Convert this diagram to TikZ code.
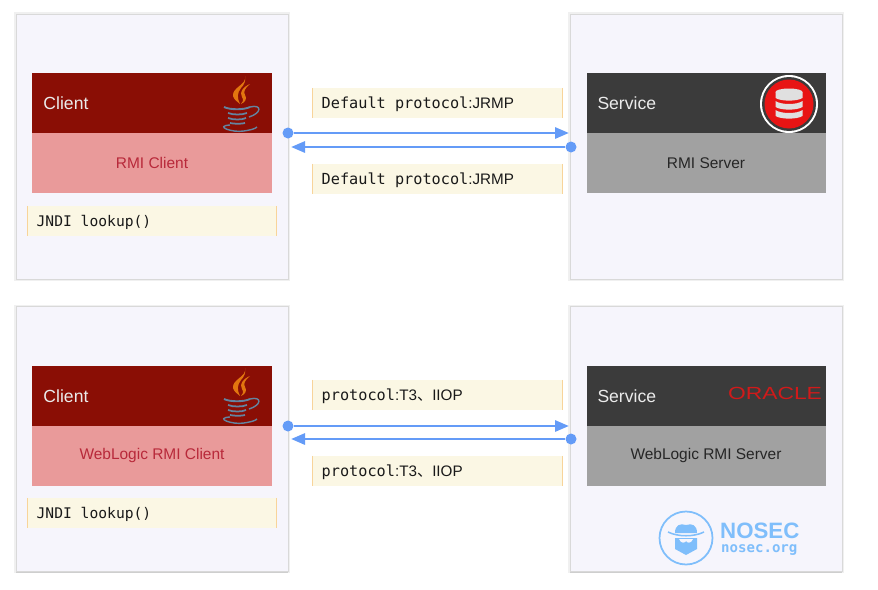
\documentclass[tikz,border=0pt]{standalone}
\usepackage{fontspec}
\setmainfont{Liberation Sans}
\setmonofont{DejaVu Sans Mono}
\newfontfamily\cjkfont{Noto Sans CJK SC}
\usetikzlibrary{arrows.meta,positioning,shadows}
\definecolor{panelbg}{HTML}{F6F5FC}
\definecolor{tagbg}{HTML}{FBF7E4}
\definecolor{tagedge}{HTML}{F8D49A}
\definecolor{flowblue}{HTML}{649BF7}
\definecolor{clienthead}{HTML}{8A0E05}
\definecolor{clientbody}{HTML}{E99A9A}
\definecolor{clienttext}{HTML}{B8293A}
\definecolor{servicehead}{HTML}{3B3B3B}
\definecolor{servicebody}{HTML}{A1A1A1}
\definecolor{logoblue}{HTML}{7FBEFB}
\definecolor{javablue}{HTML}{6484A0}
\definecolor{javaorange}{HTML}{E2760F}
\definecolor{oraclered}{HTML}{D01A1A}
\definecolor{dbred}{HTML}{E81414}
\tikzset{
	panel/.style={fill=panelbg, draw=black!15, line width=0.7pt, minimum width=8.16cm, minimum height=7.95cm, inner sep=0, preaction={draw=black!6, line width=2.6pt}, drop shadow={shadow xshift=0pt, shadow yshift=-1pt, opacity=0.3, fill=black!50}},
	headbar/.style={minimum width=7.17cm, minimum height=1.78cm, inner sep=0},
	bodybar/.style={minimum width=7.17cm, minimum height=1.79cm, inner sep=0},
	headtext/.style={text=white!92!black, font=\fontsize{15}{18}\selectfont},
	bodytext/.style={font=\fontsize{13.2}{16}\selectfont},
	tagbox/.style={fill=tagbg, minimum height=0.89cm, inner sep=0, text depth=0pt, font=\fontsize{12.5}{15}\selectfont\ttfamily, text=black!90},
	tagside/.style={draw=tagedge, line width=1.2pt},
	flowline/.style={draw=flowblue, line width=2.4pt, -{Triangle[length=0.42cm,width=0.33cm]}},
	flowdot/.style={circle, fill=flowblue, minimum size=0.33cm, inner sep=0},
}
\newcommand{\protomono}{\fontsize{13}{15}\selectfont}
\newcommand{\protosans}{\fontsize{13}{15}\selectfont\rmfamily}
\newcommand{\hostpanel}[8] % {name}{x}{y}{head colour}{head text}{body colour}{body text colour}{body text}
{
	\node [panel] (#1) at (#2,#3) {};
	\node [headbar, fill=#4, below=1.79cm of #1.north] (#1head) {};
	\node [bodybar, fill=#6, below=0cm of #1head] (#1body) {};
	\node [headtext, anchor=base west, inner sep=0] (#1title) at ([xshift=0.33cm,yshift=-0.2cm]#1head.west) {#5};
	\node [bodytext, text=#7] (#1label) at (#1body) {#8};
}
\newcommand{\tagnote}[5] % {name}{x}{y}{width}{text}
{
	\node [tagbox, minimum width=#4cm] (#1) at (#2,#3) {};
	\node [tagbox, fill=none, anchor=west] (#1text) at ([xshift=0.26cm]#1.west) {#5};
	\draw [tagside] (#1.north west) -- (#1.south west);
	\draw [tagside] (#1.north east) -- (#1.south east);
}
\newcommand{\javalogo}[2] % {x}{y}
{
	\fill [javaorange] (#1+5,#2-29) .. controls (#1+7,#2-20) and (#1-8,#2-18) .. (#1-7,#2-9) .. controls (#1-6,#2-5) and (#1-2,#2-3) .. (#1,#2-1) .. controls (#1-3,#2-7) and (#1-3,#2-12) .. (#1+1,#2-17) .. controls (#1+4,#2-20) and (#1+6,#2-24) .. (#1+5,#2-29) -- cycle;
	\fill [javaorange] (#1+10,#2-21) .. controls (#1+3,#2-18) and (#1-1,#2-13) .. (#1+2,#2-8) .. controls (#1+4,#2-5) and (#1+3,#2-3) .. (#1+1,#2-1) .. controls (#1+6,#2-3) and (#1+7,#2-7) .. (#1+5,#2-10) .. controls (#1+3,#2-13) and (#1+5,#2-17) .. (#1+10,#2-21) -- cycle;
	\draw [javablue, line width=1.6pt] (#1-16,#2+2) .. controls (#1-10,#2+5) and (#1+4,#2+5) .. (#1+10,#2+2);
	\draw [javablue, line width=1.5pt] (#1-12,#2+8) .. controls (#1-7,#2+10) and (#1+2,#2+10) .. (#1+7,#2+8);
	\draw [javablue, line width=1.5pt] (#1-12,#2+13) .. controls (#1-7,#2+15) and (#1+2,#2+15) .. (#1+6,#2+13);
	\draw [javablue, line width=1.5pt] (#1-10,#2+18) .. controls (#1-6,#2+19) and (#1+2,#2+19) .. (#1+5,#2+18);
	\draw [javablue, line width=1.2pt] (#1+10,#2+2) .. controls (#1+22,#2-1) and (#1+22,#2+8) .. (#1+9,#2+12);
	\draw [javablue, line width=1.2pt] (#1-10,#2+20) .. controls (#1-26,#2+21) and (#1-8,#2+28) .. (#1+4,#2+26) .. controls (#1+10,#2+25) and (#1+15,#2+24) .. (#1+17,#2+22);
}
\newcommand{\dbdisk}[3] % {x}{y}{fill}
{
	\fill [#3] (#1-13.5,#2-3) .. controls (#1-8,#2+1) and (#1+8,#2+1) .. (#1+13.5,#2-3) -- (#1+13.5,#2+3) .. controls (#1+8,#2+6.5) and (#1-8,#2+6.5) .. (#1-13.5,#2+3) -- cycle;
}
\newcommand{\dblogo}[2] % {x}{y}
{
	\fill [white] (#1,#2) circle [radius=29];
	\fill [servicehead] (#1,#2) circle [radius=27];
	\fill [dbred] (#1,#2) circle [radius=24.5];
	\dbdisk{#1}{#2-9}{black!12}
	\dbdisk{#1}{#2}{black!12}
	\dbdisk{#1}{#2+9}{black!12}
	\fill [black!12] (#1,#2-12) ellipse [x radius=13.5, y radius=3.5];
}
\newcommand{\nosecmark}[2] % {x}{y}
{
	\draw [logoblue, line width=1.5pt] (#1,#2) circle [radius=26.5];
	\fill [logoblue] (#1-11,#2-5) .. controls (#1-11,#2-13) and (#1-6,#2-15) .. (#1,#2-13) .. controls (#1+6,#2-15) and (#1+11,#2-13) .. (#1+11,#2-5) -- cycle;
	\draw [logoblue, line width=1.3pt] (#1-18,#2-6) .. controls (#1-8,#2-1) and (#1+8,#2-1) .. (#1+18,#2-6);
	\fill [logoblue] (#1-11,#2) -- (#1+11,#2) -- (#1+11,#2+11) -- (#1,#2+17) -- (#1-11,#2+11) -- cycle;
	\fill [panelbg] (#1-7,#2+1) .. controls (#1-5,#2+6) and (#1-1,#2+5) .. (#1,#2+3) .. controls (#1+1,#2+5) and (#1+5,#2+6) .. (#1+7,#2+1) -- cycle;
}

\begin{document}
\begin{tikzpicture}[x=0.03cm, y=-0.03cm]
	\useasboundingbox [fill=white] (0,0) rectangle (878,589);

	\hostpanel{clienta}{152}{146.5}{clienthead}{Client}{clientbody}{clienttext}{RMI Client}
	\hostpanel{servera}{706}{146.5}{servicehead}{Service}{servicebody}{black!85}{RMI Server}
	\hostpanel{clientb}{152}{439.2}{clienthead}{Client}{clientbody}{clienttext}{WebLogic RMI Client}
	\hostpanel{serverb}{706}{439.2}{servicehead}{Service}{servicebody}{black!85}{WebLogic RMI Server}

	\javalogo{240}{105}
	\javalogo{240}{397}
	\dblogo{789}{104}
	\node [text=oraclered, font=\fontsize{15}{17}\selectfont, xscale=1.3, inner sep=0] (oracle) at (775,393.5) {ORACLE};

	\tagnote{lookupa}{152}{221}{7.44}{JNDI lookup()}
	\tagnote{lookupb}{152}{513}{7.44}{JNDI lookup()}
	\tagnote{proto}{437.5}{103}{7.47}{\protomono Default protocol{\protosans:JRMP}}
	\tagnote{protoback}{437.5}{179}{7.47}{\protomono Default protocol{\protosans:JRMP}}
	\tagnote{tthree}{437.5}{395}{7.47}{\protomono protocol{\protosans:T3{\cjkfont 、}IIOP}}
	\tagnote{tthreeback}{437.5}{471}{7.47}{\protomono protocol{\protosans:T3{\cjkfont 、}IIOP}}

	% upper pair
	\node [flowdot] (senda) at (288,133) {};
	\coordinate (recva) at (569,133);
	\node [flowdot] (sendaback) at (571,147) {};
	\coordinate (recvaback) at (291,147);
	\draw [flowline] (senda) -- (recva);
	\draw [flowline] (sendaback) -- (recvaback);

	% lower pair
	\node [flowdot] (sendb) at (288,426) {};
	\coordinate (recvb) at (569,426);
	\node [flowdot] (sendbback) at (571,439) {};
	\coordinate (recvbback) at (291,439);
	\draw [flowline] (sendb) -- (recvb);
	\draw [flowline] (sendbback) -- (recvbback);

	\nosecmark{686}{538}
	\node [text=logoblue, font=\fontsize{19}{22}\selectfont\bfseries, anchor=west, inner sep=0] (nosec) at (720,530.5) {NOSEC};
	\node [text=logoblue, font=\fontsize{12}{14}\selectfont\ttfamily\bfseries, anchor=west, inner sep=0] (nosecorg) at (721,550) {nosec.org};
\end{tikzpicture}
\end{document}
